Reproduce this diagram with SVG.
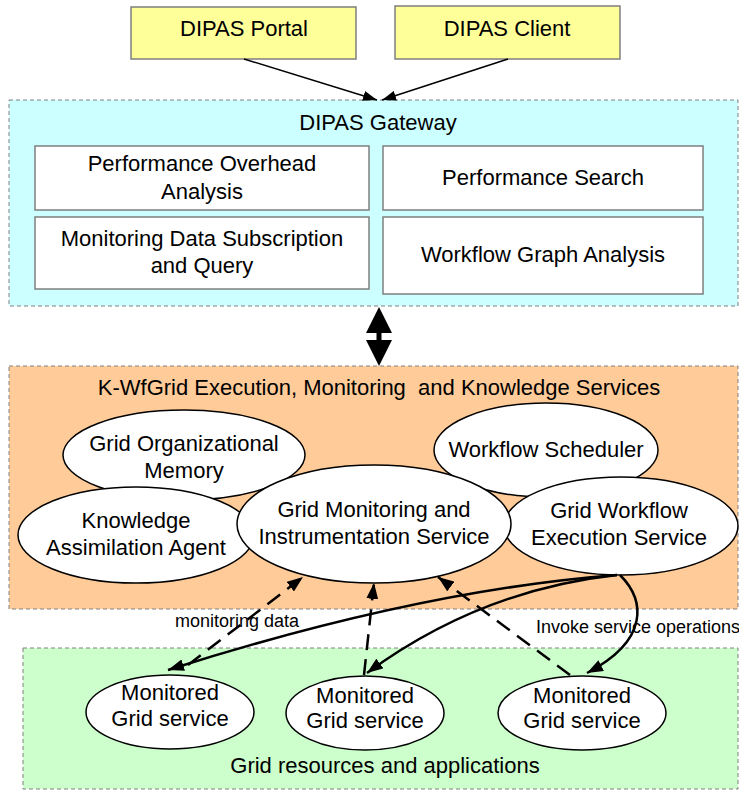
<svg xmlns="http://www.w3.org/2000/svg" width="739" height="790" viewBox="0 0 739 790">
<defs>
<style>
text{font-family:"Liberation Sans",Arial,sans-serif;fill:#000;text-anchor:middle}
.t{font-size:22px}
.s{font-size:18px}
.zone{stroke:#808080;stroke-width:1;stroke-dasharray:4 3}
.box{fill:#fff;stroke:#7f7f7f;stroke-width:1.5}
.ybox{fill:#ffff99;stroke:#7f7f7f;stroke-width:1.5}
.ell{fill:#fff;stroke:#000;stroke-width:1.5}
.thin{fill:none;stroke:#000;stroke-width:1.5}
.solid{fill:none;stroke:#000;stroke-width:2.5}
.dash{fill:none;stroke:#000;stroke-width:2.5;stroke-dasharray:16 9}
</style>
<marker id="ah" viewBox="0 0 14 10" refX="14" refY="5" markerWidth="14" markerHeight="10" markerUnits="userSpaceOnUse" orient="auto"><path d="M0,0 L14,5 L0,10 Z" fill="#000"/></marker>
<marker id="ah2" viewBox="0 0 16 12" refX="16" refY="6" markerWidth="16" markerHeight="12" markerUnits="userSpaceOnUse" orient="auto"><path d="M0,0 L16,6 L0,12 Z" fill="#000"/></marker>
</defs>

<g id="zone-gateway">
<rect class="zone" x="9" y="100" width="729" height="206" fill="#ccffff"/>
<text class="t" x="378" y="130">DIPAS Gateway</text>
</g>
<g id="zone-kwf">
<rect class="zone" x="9" y="366" width="729" height="243" fill="#ffcc99"/>
<text class="t" x="379" y="395" xml:space="preserve">K-WfGrid Execution, Monitoring  and Knowledge Services</text>
</g>
<g id="zone-grid">
<rect class="zone" x="23" y="648" width="715" height="141" fill="#ccffcc"/>
<text class="t" x="385" y="773">Grid resources and applications</text>
</g>

<g id="dipas-portal">
<rect class="ybox" x="131" y="7" width="225" height="52"/>
<text class="t" x="244" y="36">DIPAS Portal</text>
</g>
<g id="dipas-client">
<rect class="ybox" x="395" y="6" width="225" height="53"/>
<text class="t" x="507" y="36">DIPAS Client</text>
</g>

<g id="perf-overhead">
<rect class="box" x="35" y="146" width="334" height="64"/>
<text class="t" x="202" y="171">Performance Overhead</text>
<text class="t" x="202" y="199">Analysis</text>
</g>
<g id="perf-search">
<rect class="box" x="383" y="146" width="320" height="64"/>
<text class="t" x="543" y="185">Performance Search</text>
</g>
<g id="mon-data">
<rect class="box" x="35" y="217" width="334" height="72"/>
<text class="t" x="202" y="246">Monitoring Data Subscription</text>
<text class="t" x="202" y="273">and Query</text>
</g>
<g id="wf-graph">
<rect class="box" x="383" y="217" width="320" height="77"/>
<text class="t" x="543" y="262">Workflow Graph Analysis</text>
</g>

<g id="grid-org-memory">
<ellipse class="ell" cx="184" cy="455" rx="121" ry="45"/>
<text class="t" x="184" y="451">Grid Organizational</text>
<text class="t" x="184" y="478">Memory</text>
</g>
<g id="workflow-scheduler">
<ellipse class="ell" cx="546" cy="450" rx="112" ry="47"/>
<text class="t" x="546" y="457">Workflow Scheduler</text>
</g>
<g id="knowledge-agent">
<ellipse class="ell" cx="136" cy="535" rx="118" ry="48"/>
<text class="t" x="136" y="528">Knowledge</text>
<text class="t" x="136" y="555">Assimilation Agent</text>
</g>
<g id="grid-workflow-exec">
<ellipse class="ell" cx="621" cy="526" rx="117" ry="49"/>
<text class="t" x="619" y="518">Grid Workflow</text>
<text class="t" x="619" y="545">Execution Service</text>
</g>
<g id="grid-monitoring">
<ellipse class="ell" cx="374" cy="524" rx="137" ry="59"/>
<text class="t" x="374" y="517">Grid Monitoring and</text>
<text class="t" x="374" y="544">Instrumentation Service</text>
</g>

<g id="mgs1">
<ellipse class="ell" cx="170" cy="712" rx="84" ry="37"/>
<text class="t" x="170" y="700">Monitored</text>
<text class="t" x="170" y="726">Grid service</text>
</g>
<g id="mgs2">
<ellipse class="ell" cx="365" cy="713" rx="79" ry="37"/>
<text class="t" x="365" y="703">Monitored</text>
<text class="t" x="365" y="728">Grid service</text>
</g>
<g id="mgs3">
<ellipse class="ell" cx="582" cy="713" rx="84" ry="37"/>
<text class="t" x="582" y="703">Monitored</text>
<text class="t" x="582" y="728">Grid service</text>
</g>

<g id="connectors">
<line class="thin" x1="244" y1="59" x2="377" y2="100" marker-end="url(#ah)"/>
<line class="thin" x1="508" y1="59" x2="382" y2="100" marker-end="url(#ah)"/>
<path d="M379,307 L392,333 L381.5,333 L381.5,340 L392,340 L379,366 L366,340 L376.5,340 L376.5,333 L366,333 Z" fill="#000"/>
<line class="dash" x1="188" y1="665" x2="303" y2="577" marker-end="url(#ah2)"/>
<line class="dash" x1="364" y1="675" x2="374" y2="583" marker-end="url(#ah2)"/>
<line class="dash" x1="570" y1="675" x2="438" y2="577" marker-end="url(#ah2)"/>
<path class="solid" d="M617,575 Q420,590 168,670" marker-end="url(#ah2)"/>
<path class="solid" d="M617,575 Q480,590 367,673" marker-end="url(#ah2)"/>
<path class="solid" d="M620,575 C645,600 650,640 587,673" marker-end="url(#ah2)"/>
<text class="s" x="237" y="627">monitoring data</text>
<text class="s" x="536" y="633" style="text-anchor:start">Invoke service operations</text>
</g>
</svg>
